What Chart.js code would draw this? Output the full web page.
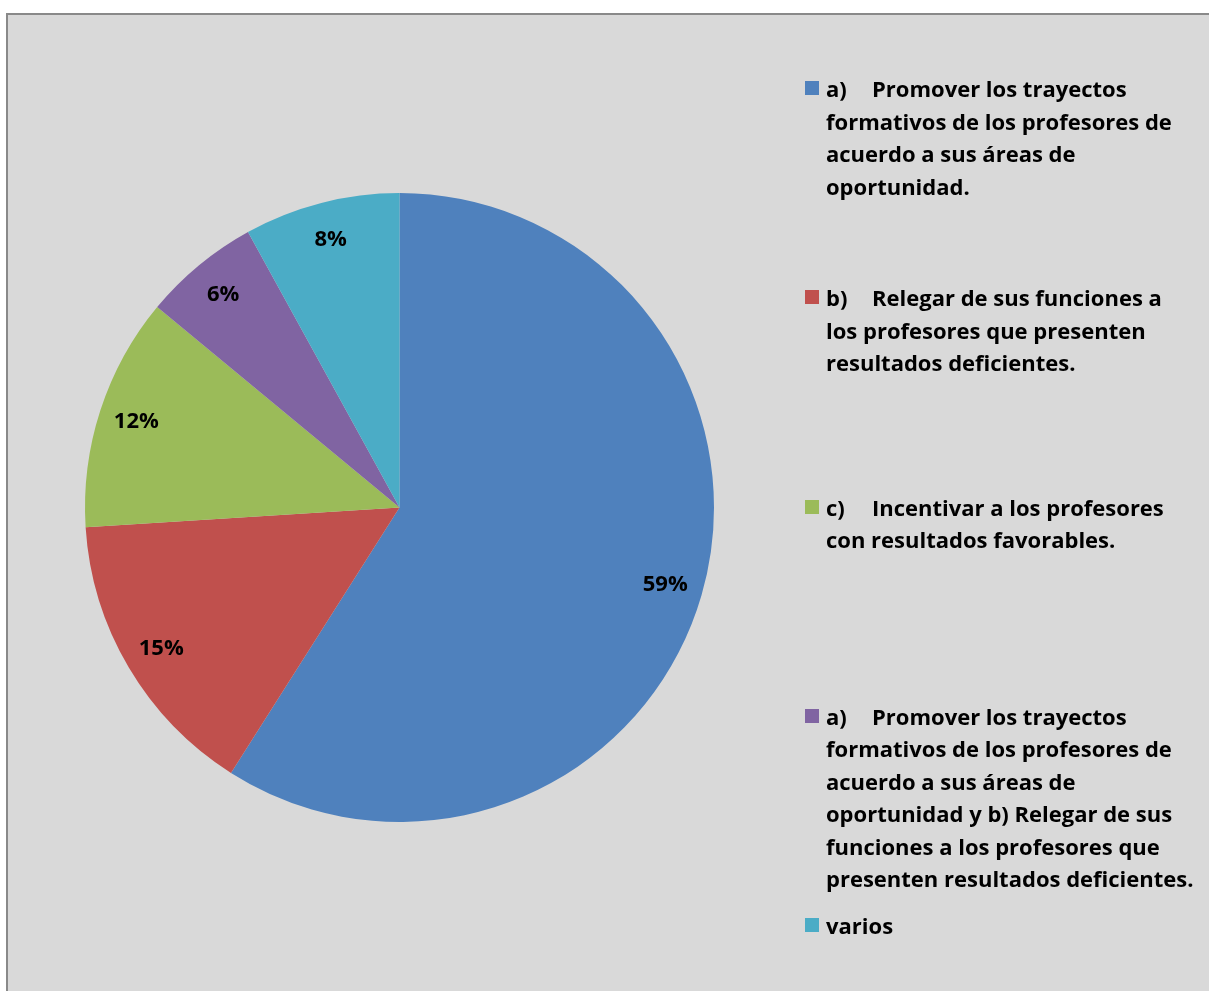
<!DOCTYPE html>
<html>
<head>
<meta charset="utf-8">
<script src="https://cdn.jsdelivr.net/npm/chart.js@4"></script>
<style>
    body {
        margin: 0;
        background: #ffffff;
        overflow: hidden;
    }
    #block__frame {
        position: absolute;
        left: 6px;
        top: 13px;
        width: 1210px;
        height: 985px;
        background: #d9d9d9;
        border: 2px solid #898989;
    }
    #chart {
        position: absolute;
        left: 0;
        top: 0;
    }
    .legend__item {
        position: absolute;
        left: 818px;
        font-family: "Open Sans", sans-serif;
        font-weight: bold;
        font-size: 22px;
        line-height: 32.5px;
        color: #000000;
        white-space: pre;
        tab-size: 46px;
    }
    .legend__marker {
        position: absolute;
        left: -21px;
        top: 9px;
        width: 14px;
        height: 14px;
    }
</style>
</head>
<body>
<div id="block__frame">
    <canvas id="chart" width="1201" height="976"></canvas>
    <div id="block__legend"></div>
</div>
<script>
// categories, one array of lines per legend entry
const labels = [
    ['a)\tPromover los trayectos', 'formativos de los profesores de', 'acuerdo a sus áreas de', 'oportunidad.'],
    ['b)\tRelegar de sus funciones a', 'los profesores que presenten', 'resultados deficientes.'],
    ['c)\tIncentivar a los profesores', 'con resultados favorables.'],
    ['a)\tPromover los trayectos', 'formativos de los profesores de', 'acuerdo a sus áreas de', 'oportunidad y b) Relegar de sus', 'funciones a los profesores que', 'presenten resultados deficientes.'],
    ['varios']
]
// share of answers, in percent
const values = [59, 15, 12, 6, 8]
const colors = ['#4f81bd', '#c0504d', '#9bbb59', '#8064a2', '#4bacc6']

// writes the percentage inside each slice, towards the rim
const sliceLabels = {
    id: 'sliceLabels',
    afterDatasetsDraw(chart) {
        const ctx = chart.ctx
        const meta = chart.getDatasetMeta(0)
        ctx.save()
        ctx.font = 'bold 22px "Open Sans", sans-serif'
        ctx.fillStyle = '#000000'
        ctx.textAlign = 'center'
        ctx.textBaseline = 'middle'
        meta.data.forEach((arc, i) => {
            const p = arc.getProps(['x', 'y', 'startAngle', 'endAngle', 'outerRadius'], true)
            const mid = (p.startAngle + p.endAngle) / 2
            const r = p.outerRadius * 0.88
            ctx.fillText(chart.data.datasets[0].data[i] + '%', p.x + Math.cos(mid) * r, p.y + Math.sin(mid) * r)
        })
        ctx.restore()
    }
}

new Chart(document.getElementById('chart'), {
    type: 'pie',
    data: {
        labels: labels,
        datasets: [{
            data: values,
            backgroundColor: colors,
            borderWidth: 0
        }]
    },
    options: {
        responsive: false,
        animation: false,
        layout: {
            padding: { left: 77, top: 178, right: 495, bottom: 169 }
        },
        plugins: {
            legend: { display: false },
            tooltip: { enabled: false }
        }
    },
    plugins: [sliceLabels]
})

// legend on the right, entries spread evenly down the frame
const legend = document.getElementById('block__legend')
labels.forEach((lines, i) => {
    const item = document.createElement('div')
    item.className = 'legend__item'
    item.style.top = (57 + i * 209.25) + 'px'
    const marker = document.createElement('span')
    marker.className = 'legend__marker'
    marker.style.background = colors[i]
    item.appendChild(marker)
    item.appendChild(document.createTextNode(lines.join('\n')))
    legend.appendChild(item)
})
</script>
</body>
</html>
